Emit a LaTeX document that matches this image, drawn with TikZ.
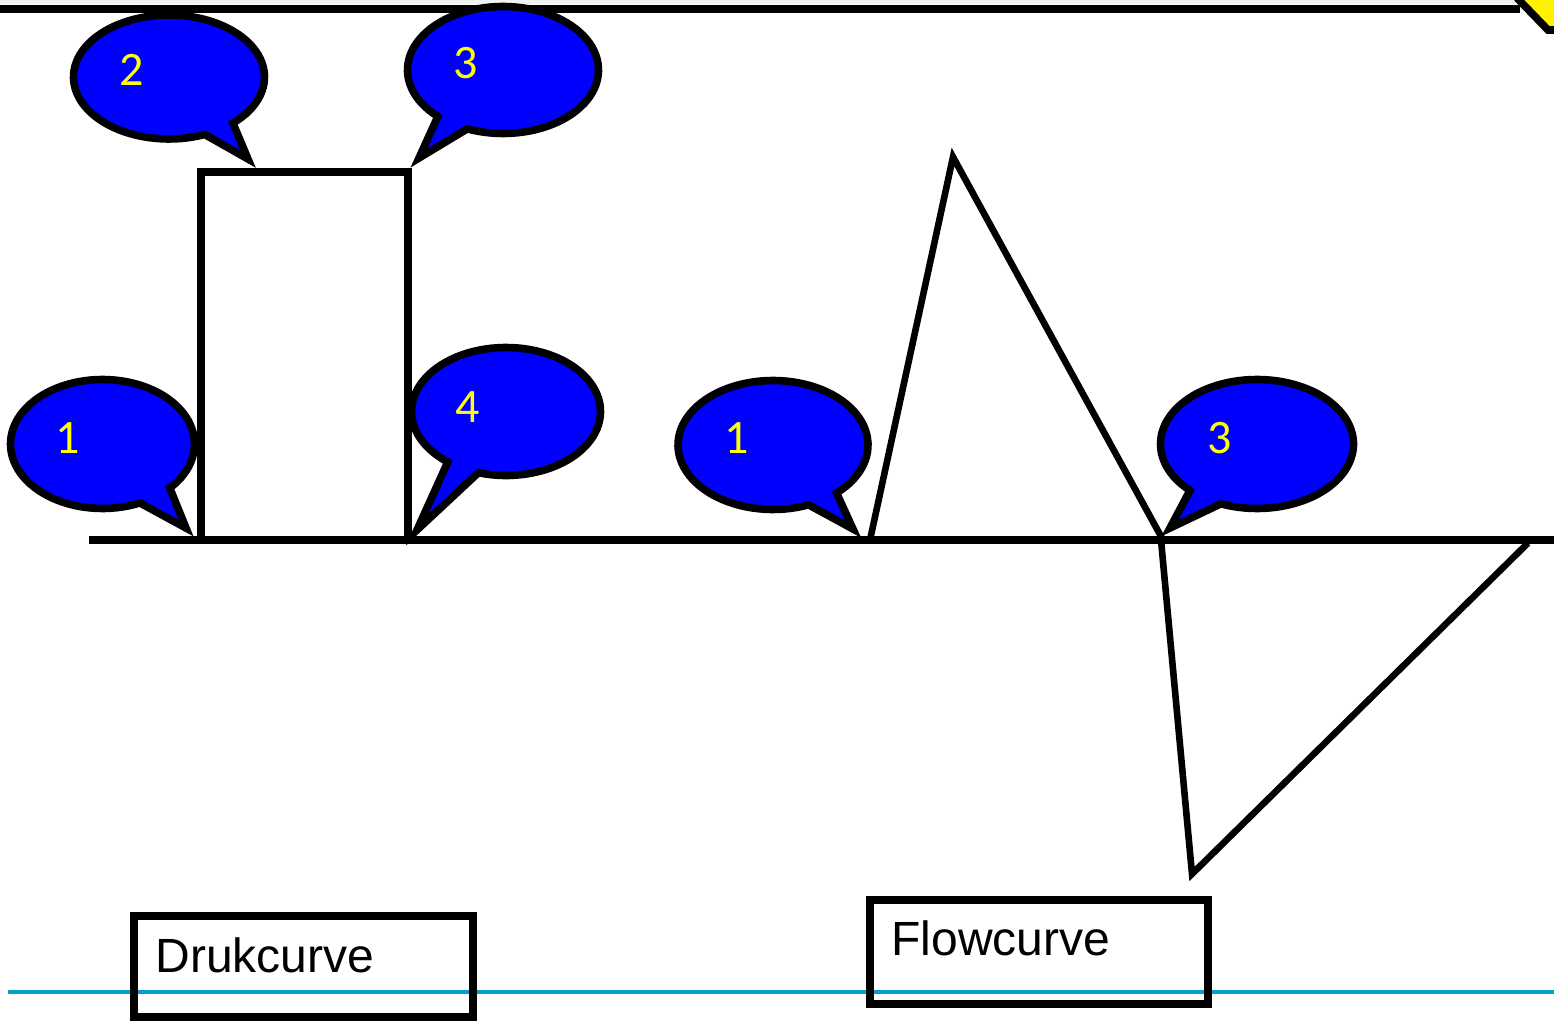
\documentclass[tikz,border=0pt]{standalone}
\usepackage{fontspec}
\setmainfont{Liberation Sans}
\newfontfamily\digitfont{Carlito}
\usetikzlibrary{calc}
\definecolor{bubblefill}{RGB}{0,0,255}
\definecolor{bubbletext}{RGB}{255,255,0}
\definecolor{rulecol}{RGB}{0,160,204}
\definecolor{topgrey}{RGB}{242,242,242}
\tikzset{
  bubble/.style={fill=bubblefill, draw=black, line width=3.8pt, line join=miter, miter limit=10},
  bubblelabel/.style={text=bubbletext, font=\digitfont\fontsize{24}{28}\selectfont, inner sep=0pt},
  heavyline/.style={draw=black, line width=3.8pt},
  triline/.style={draw=black, line width=3.3pt},
  labelbox/.style={draw=black, line width=3.8pt, inner sep=0pt},
  boxtext/.style={font=\fontsize{24}{28}\selectfont, inner sep=0pt, anchor=base west},
}
\begin{document}
\begin{tikzpicture}[x=0.5pt,y=-0.5pt]
\useasboundingbox (0,0) rectangle (1554,1021);
% top band and line
\fill[topgrey] (0,0) rectangle (1520,4);
\coordinate (tl) at (0,9);
\coordinate (tr) at (1520,9);
\draw[heavyline] (tl) -- (tr);
% yellow corner shape
\coordinate (ya) at (1517,-2);
\coordinate (yb) at (1548,30);
\coordinate (yc) at (1560,30);
\fill[yellow] (ya) -- (yb) -- (yc) -- (1560,-5) -- (1517,-5) -- cycle;
\draw[heavyline, line join=miter] (ya) -- (yb) -- (yc);
% blue rule
\coordinate (rl) at (8,992);
\coordinate (rr) at (1554,992);
\draw[rulecol, line width=2pt] (rl) -- (rr);
% main horizontal line
\coordinate (ml) at (89,540);
\coordinate (mr) at (1554,540);
\draw[heavyline] (ml) -- (mr);
% rectangle pulse
\coordinate (r1) at (201,540);
\coordinate (r2) at (201,172);
\coordinate (r3) at (408,172);
\coordinate (r4) at (408,540);
\draw[heavyline] (r1) -- (r2) -- (r3) -- (r4);
% triangle up
\coordinate (t1) at (870,540);
\coordinate (t2) at (953,157);
\coordinate (t3) at (1163,540);
\draw[triline] (t1) -- (t2) -- (t3);
% triangle down
\coordinate (d1) at (1161,540);
\coordinate (d2) at (1192,874);
\coordinate (d3) at (1528,543);
\draw[triline] (d1) -- (d2) -- (d3);
% callouts
\path[bubble] plot[domain=66:403, samples=90] ({102.5+92*cos(\x)},{444+64.5*sin(\x)}) -- (186,528) -- cycle;
\node[bubblelabel] (c1) at (68,438) {1};
\path[bubble] plot[domain=68:408, samples=90] ({169+95.5*cos(\x)},{77+62*sin(\x)}) -- (248,159) -- cycle;
\node[bubblelabel] (c2) at (132,70) {2};
\path[bubble] plot[domain=133:472, samples=90] ({503+95.5*cos(\x)},{70+63.5*sin(\x)}) -- (419,158) -- cycle;
\node[bubblelabel] (c3) at (466,63) {3};
\path[bubble] plot[domain=128:467, samples=90] ({506+94.5*cos(\x)},{411.5+64*sin(\x)}) -- (417,530) -- cycle;
\node[bubblelabel] (c4) at (468,407) {4};
\path[bubble] plot[domain=68:408, samples=90] ({773+95*cos(\x)},{445+64.5*sin(\x)}) -- (853,529) -- cycle;
\node[bubblelabel] (c5) at (737,438) {1};
\path[bubble] plot[domain=134:472, samples=90] ({1257+96.5*cos(\x)},{444+64.5*sin(\x)}) -- (1170,528) -- cycle;
\node[bubblelabel] (c6) at (1220,438) {3};
% label boxes
\node[labelbox, minimum width=169.5pt, minimum height=50.5pt] (bdruk) at (303.5,966.5) {};
\node[boxtext] (tdruk) at (155,972) {Drukcurve};
\node[labelbox, minimum width=169pt, minimum height=52pt] (bflow) at (1039,952) {};
\node[boxtext] (tflow) at (891,955) {Flowcurve};
\end{tikzpicture}
\end{document}
